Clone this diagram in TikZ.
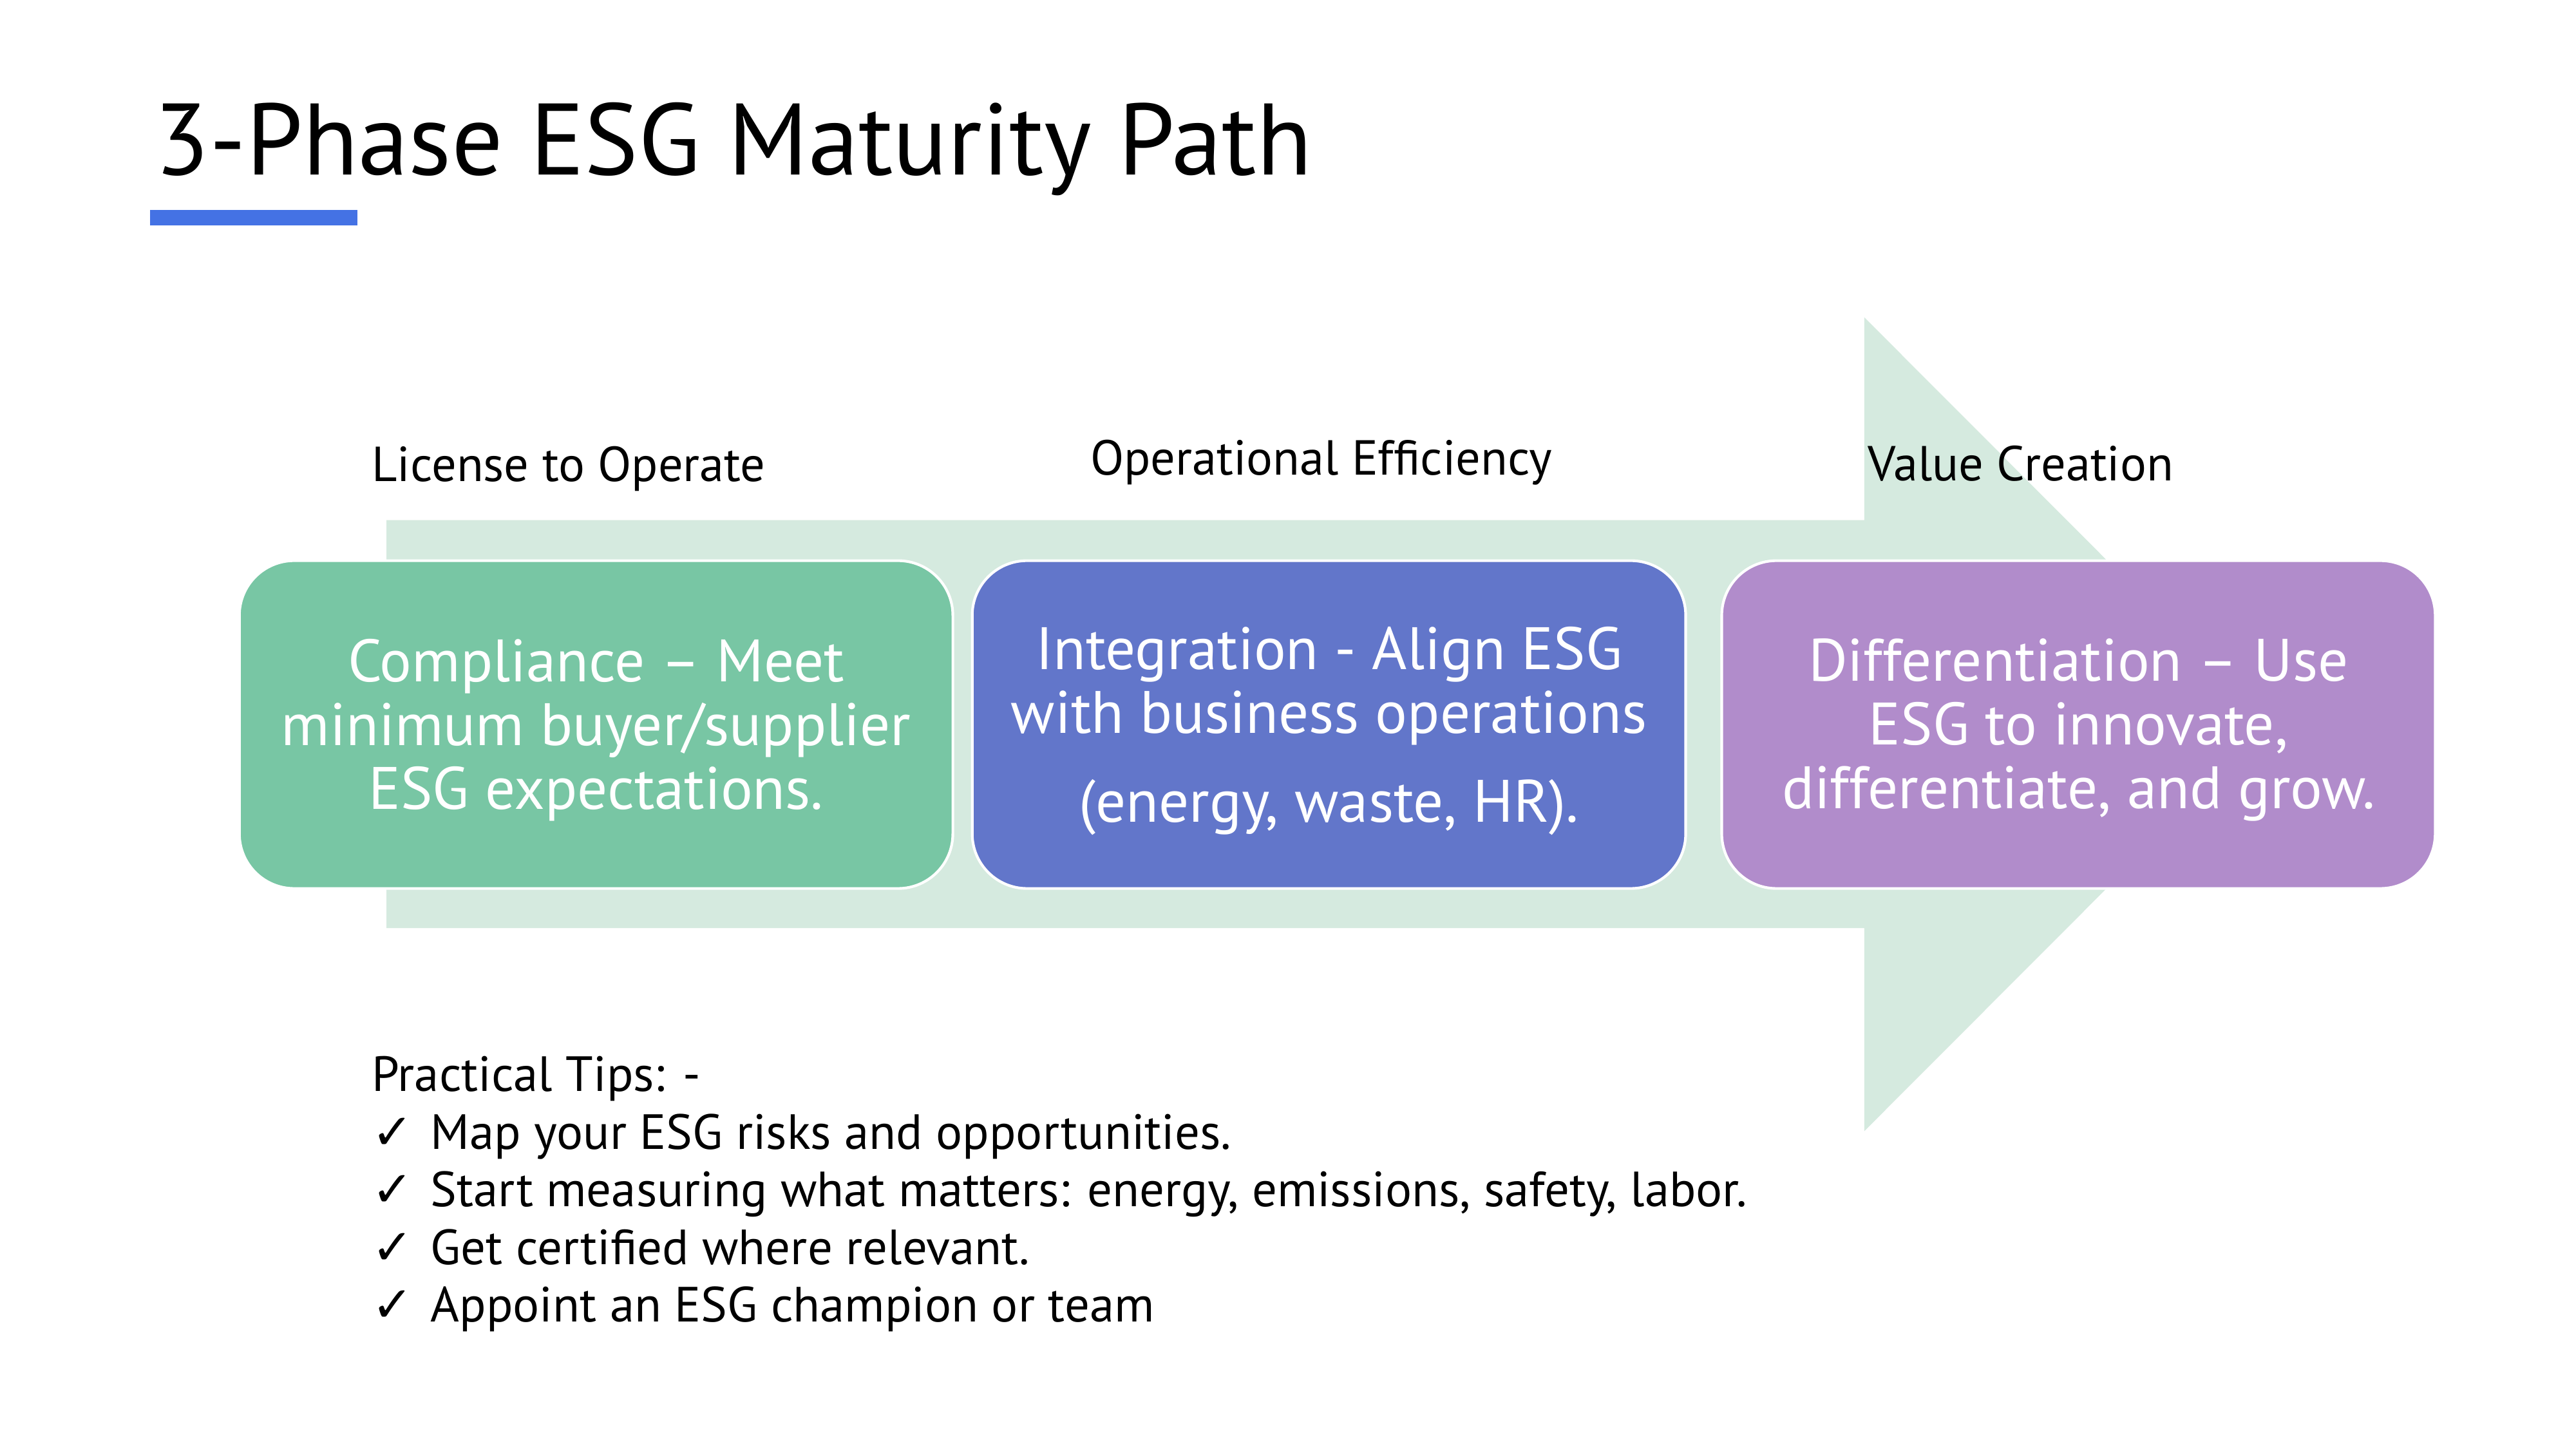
\documentclass[tikz,border=0pt]{standalone}
\usepackage{fontspec}
\setmainfont{PT Sans}
\newfontfamily\tickfont{DejaVu Sans}
\definecolor{arrowgreen}{RGB}{213,234,223}
\definecolor{compgreen}{RGB}{120,198,164}
\definecolor{integblue}{RGB}{98,118,202}
\definecolor{diffpurple}{RGB}{177,140,203}
\definecolor{barblue}{RGB}{68,114,228}
\def\tick{\makebox[22pt][l]{\tickfont ✓}}

\begin{document}
\begin{tikzpicture}[x=2.171mm, y=2.171mm,
    phase/.style={rounded corners=7.2mm, draw=white, line width=1pt,
      minimum width=93.8mm, minimum height=43.1mm, inner sep=0pt},
    phasetext/.style={text=white, inner sep=0pt, align=center,
      font=\fontsize{22.4}{23.8}\selectfont},
    phasename/.style={anchor=base west, inner sep=0pt, font=\fontsize{18.4}{22}\selectfont},
    tip/.style={anchor=base west, inner sep=0pt, font=\fontsize{18.5}{22}\selectfont}]

\useasboundingbox (0,0) rectangle (156,-87.75);
\fill[white] (0,0) rectangle (156,-87.75);

      \node [anchor=base west, inner sep=0pt, font=\fontsize{38}{42}\selectfont] at (9.3,-10.58) (title) {3-Phase ESG Maturity Path};
      \fill[barblue] (9.09,-12.71) rectangle (21.65,-13.65);
%
%
\fill[arrowgreen] (23.4,-31.5) -- (112.9,-31.5) -- (112.9,-19.22) -- (137.5,-43.86)
   -- (112.9,-68.5) -- (112.9,-56.2) -- (23.4,-56.2) -- cycle;
%
          \node [phase, fill=compgreen] at (36.1,-43.88) (comp) {};
          \node [phase, fill=integblue] at (80.48,-43.88) (integ) {};
          \node [phase, fill=diffpurple] at (125.87,-43.88) (diff) {};
%
          \node [phasetext] at ([yshift=-2pt]comp.center) (compt) {Compliance – Meet\\minimum buyer/supplier\\ESG expectations.};
          \node [phasetext] at ([yshift=-2.4pt]integ.center) (integt) {Integration - Align ESG\\with business operations\\[9.5pt](energy, waste, HR).};
          \node [phasetext] at ([yshift=-2pt]diff.center) (difft) {Differentiation – Use\\ESG to innovate,\\differentiate, and grow.};
%
             \node [phasename] at (22.49,-29.14) (lto) {License to Operate};
             \node [phasename] at (66.0,-28.75) (opeff) {Operational Efficiency};
             \node [phasename] at (113.1,-29.1) (vc) {Value Creation};
%
                \node [tip] at (22.49,-66.07) (tips) {Practical Tips: -};
                \node [tip] at (22.49,-69.58) (tipa) {\tick Map your ESG risks and opportunities.};
                \node [tip] at (22.49,-73.07) (tipb) {\tick Start measuring what matters: energy, emissions, safety, labor.};
                \node [tip] at (22.49,-76.56) (tipc) {\tick Get certified where relevant.};
                \node [tip] at (22.49,-80.05) (tipd) {\tick Appoint an ESG champion or team};

\end{tikzpicture}
\end{document}
